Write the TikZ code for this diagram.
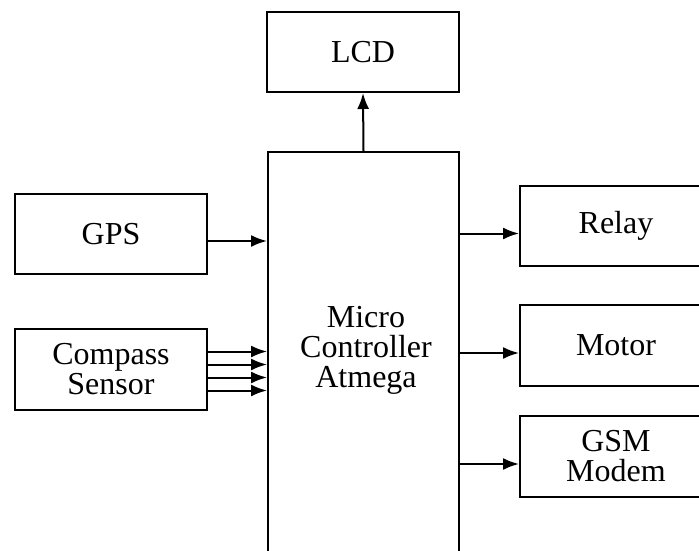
\documentclass[tikz,border=0pt]{standalone}
\usepackage{fontspec}
\setmainfont{Liberation Serif}
\usepackage{tikz}
\usetikzlibrary{arrows.meta}

\begin{document}
\begin{tikzpicture}[
  x=1pt, y=1pt,
  every node/.style={font=\fontsize{32}{30}\selectfont, align=center},
  blk/.style={rectangle, draw, line width=2pt, minimum width=192pt, minimum height=80pt, inner sep=0pt},
  arr/.style={draw, line width=2pt, -{Latex[length=16pt,width=12pt]}}
]
\useasboundingbox (0,0) rectangle (699,-551);
\clip (0,0) rectangle (699,-551);
\node[blk] (lcd) at (363,-52) {LCD};
\node[blk, anchor=north, minimum width=191pt, minimum height=430pt] (micro) at (363.5,-151) {};
\node (microtxt) at (366,-350) {Micro\\Controller\\Atmega};
\node[blk] (gps) at (111,-234) {GPS};
\node[blk, minimum height=81pt] (compass) at (111,-369.5) {Compass\\Sensor};
\node[blk] (relay) at (616,-226) {Relay};
\node[blk, minimum height=81pt] (motor) at (616,-345.5) {Motor};
\node[blk, minimum height=81pt] (gsm) at (616,-456.5) {GSM\\Modem};
% connectors
\draw[arr] (micro.north) -- (lcd.south);
\draw[arr] ([yshift=-7pt]gps.east) coordinate (g1) -- (g1 -| micro.west);
\foreach \d [count=\i] in {-18,-5,8,21}
  \draw[arr] ([yshift=-\d pt]compass.east) coordinate (c\i) -- (c\i -| micro.west);
\foreach \out in {relay,motor,gsm}
  \draw[arr] ([yshift=-7.5pt]\out.west -| micro.east) coordinate (o) -- ([yshift=-7.5pt]\out.west);
\end{tikzpicture}
\end{document}
